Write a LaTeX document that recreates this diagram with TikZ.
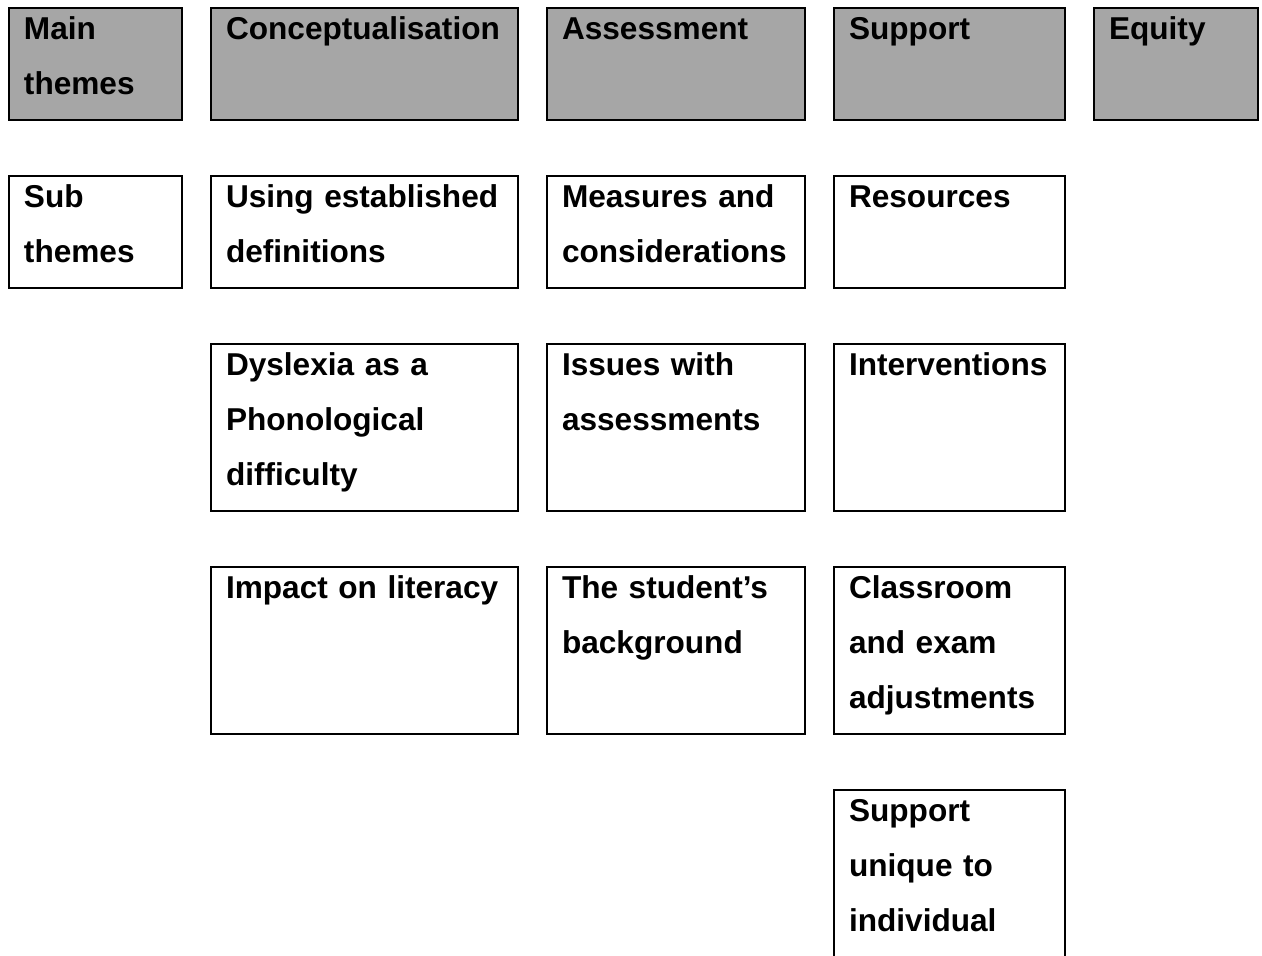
\documentclass[tikz,border=0pt]{standalone}
\usepackage{fontspec}
\setmainfont{Liberation Sans}
\usepackage{xcolor}
\usepackage{tikz}
\usetikzlibrary{positioning}
\definecolor{hd}{HTML}{A6A6A6}
\newcommand{\cellfont}{\bfseries\fontsize{15.8pt}{27.5pt}\selectfont\hyphenpenalty=10000\relax\exhyphenpenalty=10000\relax}
\tikzset{
  cell/.style={draw, line width=1pt, outer sep=0pt, inner xsep=7.5pt, inner ysep=0pt, align=left, anchor=north, text height=15.5pt, font=\cellfont},
  head/.style={cell, fill=hd},
  sub/.style={cell, fill=white},
  short/.style={text depth=40.5pt},
  tall/.style={text depth=68pt},
  open/.style={text depth=110pt},
  colA/.style={minimum width=86.5pt, text width=71.5pt},
  colB/.style={minimum width=153.5pt, text width=138.5pt},
  colC/.style={minimum width=129pt, text width=114pt},
  colD/.style={minimum width=115.5pt, text width=100.5pt},
  colE/.style={minimum width=82pt, text width=67pt},
}

\begin{document}
\begin{tikzpicture}[node distance=28pt and 14.5pt]
  \path[use as bounding box, clip] (0,0) rectangle (631pt,-477.5pt);
  \fill[white] (0,0) rectangle (631pt,-477.5pt);

  % main themes
  \node[head, colA, short, anchor=north west] (mh) at (4.5pt,-4pt) {Main\\themes};
  \node[head, colB, short, right=of mh] (cn) {Conceptualisation};
  \node[head, colC, short, right=of cn] (as) {Assessment};
  \node[head, colD, short, right=of as] (sp) {Support};
  \node[head, colE, short, right=of sp] (eq) {Equity};

  % sub themes
  \node[sub, colA, short, below=of mh] (sh) {Sub\\themes};
  \node[sub, colB, short, below=of cn] (cn1) {Using~established\\definitions};
  \node[sub, colB, tall, below=of cn1] (cn2) {Dyslexia~as~a\\Phonological\\difficulty};
  \node[sub, colB, tall, below=of cn2] (cn3) {Impact~on~literacy};
  \node[sub, colC, short, below=of as] (as1) {Measures~and\\considerations};
  \node[sub, colC, tall, below=of as1] (as2) {Issues~with\\assessments};
  \node[sub, colC, tall, below=of as2] (as3) {The~student’s\\background};
  \node[sub, colD, short, below=of sp] (sp1) {Resources};
  \node[sub, colD, tall, below=of sp1] (sp2) {Interventions};
  \node[sub, colD, tall, below=of sp2] (sp3) {Classroom\\and~exam\\adjustments};
  \node[sub, colD, open, below=of sp3] (sp4) {Support\\unique~to\\individual};
\end{tikzpicture}
\end{document}
